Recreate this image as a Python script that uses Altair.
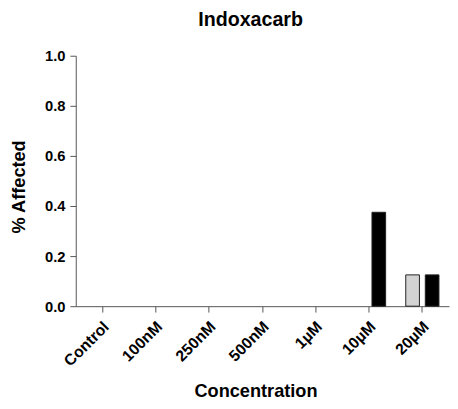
import altair as alt
import pandas as pd

categories = ["Control", "100nM", "250nM", "500nM", "1µM", "10µM", "20µM"]
series_names = ["Group A", "Group B"]
group_a = [0, 0, 0, 0, 0, 0, 0.125]
group_b = [0, 0, 0, 0, 0, 0.375, 0.125]
y_ticks = [0.0, 0.2, 0.4, 0.6, 0.8, 1.0]
bar_colors = ["#d3d3d3", "#000000"]

rows = []
for c, a, b in zip(categories, group_a, group_b):
    rows.append({"Concentration": c, "series": series_names[0], "value": a})
    rows.append({"Concentration": c, "series": series_names[1], "value": b})
df = pd.DataFrame(rows)

FONT = "Liberation Sans"
AX = "#555555"

chart = (
    alt.Chart(df, title=alt.TitleParams(
        "Indoxacarb", font=FONT, fontSize=20, fontWeight="bold", color="#000",
        anchor="middle", dx=-12, offset=19))
    .transform_filter("datum.value > 0")
    .mark_bar(stroke="#222222", strokeWidth=1)
    .encode(
        x=alt.X("Concentration:N", sort=categories,
                scale=alt.Scale(domain=categories, paddingInner=0, paddingOuter=0),
                axis=alt.Axis(title="Concentration", labelAngle=-45, labelFont=FONT,
                              labelFontSize=16, labelFontWeight="bold", labelColor="#000",
                              labelAlign="right", labelBaseline="middle", labelOffset=4,
                              titleFont=FONT, titleFontSize=18.5, titleFontWeight="bold",
                              titleColor="#000", titleX=183, titleY=92,
                              titleBaseline="alphabetic", domainColor=AX, tickColor=AX,
                              tickSize=6, labelPadding=12, grid=False)),
        xOffset=alt.XOffset("series:N",
                            scale=alt.Scale(domain=series_names, paddingInner=0.3,
                                            paddingOuter=0.515)),
        y=alt.Y("value:Q", scale=alt.Scale(domain=[0, 1]),
                axis=alt.Axis(title="% Affected", values=y_ticks, format=".1f",
                              labelFont=FONT, labelFontSize=15, labelFontWeight="bold",
                              labelColor="#000", titleFont=FONT, titleFontSize=18.5,
                              titleFontWeight="bold", titleColor="#000", titleX=-52,
                              titleY=133, titleBaseline="alphabetic", domainColor=AX,
                              tickColor=AX, tickSize=6, labelPadding=5, grid=False)),
        color=alt.Color("series:N", scale=alt.Scale(domain=series_names, range=bar_colors),
                        legend=None),
    )
    .properties(width=380, height=255,
                autosize=alt.AutoSizeParams(type="none"),
                padding={"left": 69, "top": 45, "right": 1, "bottom": 97})
    .configure_view(stroke=None)
)

chart.save("out.html", embed_options={"renderer": "svg", "actions": False})
